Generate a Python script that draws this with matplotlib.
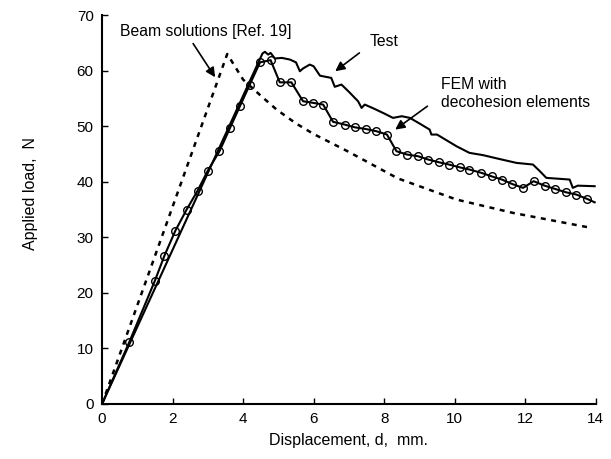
import matplotlib.pyplot as plt

plt.rcParams['font.family'] = ['Liberation Sans', 'DejaVu Sans']

# Test curve
test_x = [0, 4.55, 4.62, 4.71, 4.78, 4.9, 5.1, 5.33, 5.5, 5.61, 5.7, 5.89, 6.0,
          6.18, 6.5, 6.6, 6.79, 7.0, 7.26, 7.36, 7.45, 7.7, 8.0, 8.25, 8.5, 8.73,
          9.0, 9.29, 9.34, 9.5, 10.05, 10.42, 10.8, 11.2, 11.75, 12.22, 12.4,
          12.6, 13.26, 13.35, 13.49, 13.97]
test_y = [0, 63.1, 63.4, 62.9, 63.2, 62.2, 62.3, 62.0, 61.5, 59.9, 60.4, 61.1, 60.8,
          59.1, 58.7, 57.1, 57.5, 56.2, 54.5, 53.3, 53.9, 53.2, 52.3, 51.5, 51.8, 51.5,
          50.5, 49.4, 48.5, 48.5, 46.4, 45.2, 44.8, 44.2, 43.4, 43.1, 42.0,
          40.7, 40.4, 38.9, 39.3, 39.2]

# FEM with decohesion elements (marker positions)
fem_x = [0, 0.77, 1.50, 1.77, 2.08, 2.40, 2.71, 3.00, 3.33, 3.63, 3.91, 4.19, 4.48,
         4.78, 5.04, 5.37, 5.70, 5.99, 6.27, 6.55, 6.88, 7.17, 7.48, 7.78, 8.08,
         8.35, 8.65, 8.96, 9.25, 9.56, 9.84, 10.14, 10.42, 10.76, 11.06, 11.34,
         11.63, 11.94, 12.24, 12.55, 12.85, 13.16, 13.45, 13.76, 13.97]
fem_y = [0, 11.1, 22.2, 26.7, 31.2, 35.0, 38.4, 42.0, 45.5, 49.7, 53.6, 57.5, 61.5,
         61.9, 57.9, 57.9, 54.5, 54.2, 53.9, 50.8, 50.3, 49.8, 49.5, 49.1, 48.5,
         45.5, 44.9, 44.6, 44.0, 43.5, 43.1, 42.6, 42.2, 41.6, 40.95, 40.4,
         39.6, 38.9, 40.1, 39.3, 38.7, 38.1, 37.7, 36.9, 36.3]

# Beam solutions [Ref. 19]
beam_x = [0, 3.55, 4.0, 4.5, 4.95, 5.5, 6.0, 6.93, 8.39, 10.05, 11.65, 13.87]
beam_y = [0, 63.0, 58.4, 55.5, 53.0, 50.5, 48.6, 45.6, 40.6, 36.8, 34.4, 31.7]

fig = plt.figure(figsize=(6.11, 4.59), dpi=100)
ax = fig.add_axes([0.167, 0.120, 0.808, 0.847])

ax.plot(beam_x, beam_y, color='black', lw=1.8, linestyle=(0, (2, 2.2)))
ax.plot(test_x, test_y, color='black', lw=1.5)
# markers on all but the first and last points
ax.plot(fem_x, fem_y, color='black', lw=1.5, marker='o', ms=5.5,
        mfc='none', mec='black', mew=1, markevery=list(range(1, len(fem_x) - 1)))

ax.set_xlim(0, 14)
ax.set_ylim(0, 70)
ax.set_xticks(range(0, 15, 2))
ax.set_yticks(range(0, 71, 10))
for s in ['top', 'right']:
    ax.spines[s].set_visible(False)
ax.spines['left'].set_linewidth(1.5)
ax.spines['bottom'].set_linewidth(1.5)
ax.tick_params(direction='in', length=4, width=1, labelsize=11, pad=6)

ax.set_xlabel('Displacement, d,  mm.', fontsize=11.5, labelpad=5)
ax.set_ylabel('Applied load,  N', fontsize=11.5)
ax.yaxis.set_label_coords(-0.13, 0.54)

arrow = dict(arrowstyle='-|>', color='black', lw=1.2, mutation_scale=14)
ax.annotate('', xy=(3.25, 58.4), xytext=(2.54, 65.3), arrowprops=arrow)
ax.text(0.51, 67.1, 'Beam solutions [Ref. 19]', fontsize=11.3, va='center')
ax.annotate('', xy=(6.55, 59.6), xytext=(7.36, 63.5), arrowprops=arrow)
ax.text(7.6, 65.3, 'Test', fontsize=11.3, va='center')
ax.annotate('', xy=(8.25, 49.1), xytext=(9.29, 53.9), arrowprops=arrow)
ax.text(9.62, 57.5, 'FEM with', fontsize=11.3, va='center')
ax.text(9.62, 54.2, 'decohesion elements', fontsize=11.3, va='center')

fig.savefig('out.png', dpi=100)
